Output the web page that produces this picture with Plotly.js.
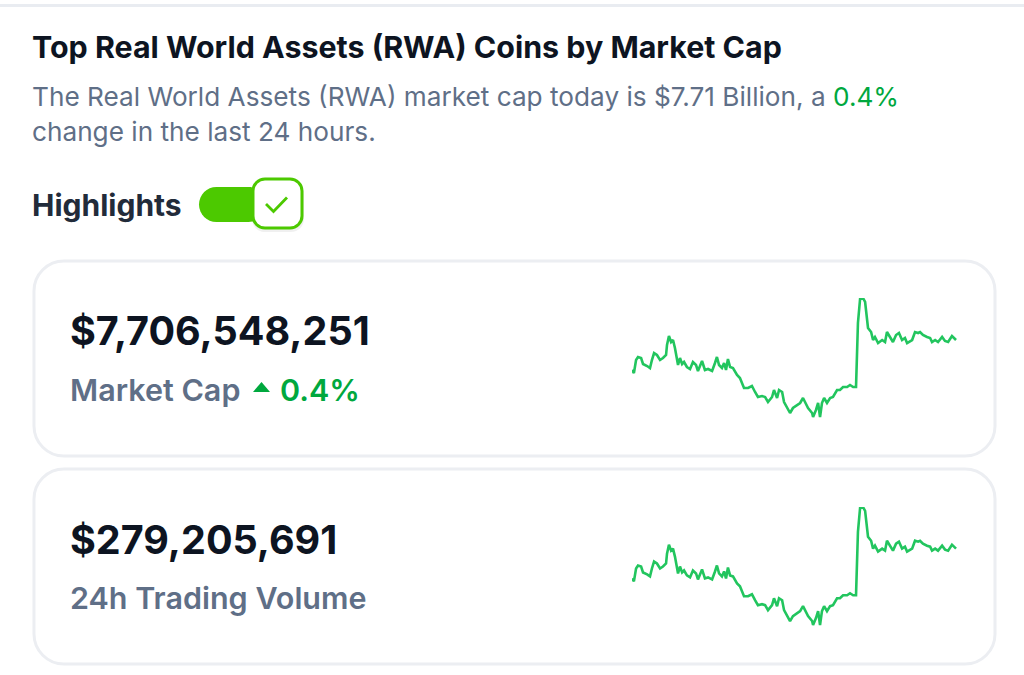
<!DOCTYPE html>
<html>
<head>
<meta charset="utf-8">
<script src="https://cdn.plot.ly/plotly-3.0.1.min.js"></script>
<style>html,body{margin:0;padding:0;background:#fff;}#chart{width:1024px;height:675px;}</style>
</head>
<body>
<div id="chart"></div>
<script>
// ---- data (7-day sparkline, hours vs market cap in billions USD) ----
const hours = [0,1.0,2.1,3.1,4.7,5.7,7.8,9.3,10.3,11.4,12.9,14.5,16.0,17.6,18.1,19.1,20.2,21.2,22.2,23.3,23.8,24.8,25.9,26.9,28.4,30.0,31.5,33.1,34.1,36.2,37.7,39.3,41.4,42.9,43.9,45.0,46.5,47.6,48.6,49.6,50.7,52.2,54.3,55.8,56.9,57.9,60.0,62.0,63.6,65.1,67.2,68.8,70.3,72.4,73.4,75.0,76.0,77.6,78.6,80.1,81.7,83.2,85.3,86.9,88.4,90.0,91.0,93.1,93.6,95.1,96.2,97.2,98.2,99.3,100.8,102.4,103.9,106.0,107.5,109.1,111.2,112.7,114.3,115.8,116.3,116.8,117.9,119.4,120.5,121.5,122.0,123.6,124.6,125.6,127.2,129.3,130.8,131.8,133.4,134.9,136.5,138.0,139.6,141.1,142.2,144.8,146.3,147.9,148.9,150.4,152.5,154.1,155.1,156.7,158.2,160.3,161.8,163.4,165.4,166.5,167.5];
const marketCapSpark = [7.590,7.578,7.630,7.642,7.638,7.614,7.606,7.598,7.630,7.658,7.650,7.630,7.638,7.650,7.690,7.726,7.702,7.710,7.678,7.626,7.610,7.638,7.614,7.622,7.602,7.594,7.622,7.610,7.586,7.626,7.590,7.594,7.586,7.618,7.642,7.610,7.598,7.618,7.590,7.634,7.602,7.598,7.570,7.558,7.538,7.518,7.518,7.526,7.502,7.482,7.486,7.482,7.462,7.482,7.510,7.478,7.510,7.502,7.462,7.438,7.418,7.438,7.450,7.458,7.478,7.450,7.438,7.418,7.402,7.430,7.458,7.402,7.458,7.478,7.458,7.478,7.482,7.510,7.510,7.522,7.522,7.530,7.522,7.522,7.642,7.778,7.874,7.878,7.862,7.778,7.758,7.742,7.710,7.722,7.698,7.710,7.702,7.742,7.718,7.702,7.730,7.738,7.710,7.718,7.698,7.710,7.742,7.738,7.742,7.730,7.722,7.718,7.702,7.710,7.702,7.722,7.706,7.702,7.726,7.718,7.710];
// the trading-volume card shows the same sparkline series
const volumeSpark = marketCapSpark;

const titleText = "Top Real World Assets (RWA) Coins by Market Cap";
const subLine1 = "The Real World Assets (RWA) market cap today is $7.71 Billion, a ";
const subChange = "0.4%";
const subLine2 = "change in the last 24 hours.";
const marketCapValue = "$7,706,548,251";
const marketCapLabel = "Market Cap";
const marketCapChange = "0.4%";
const volumeValue = "$279,205,691";
const volumeLabel = "24h Trading Volume";
const toggleLabel = "Highlights";

// ---- layout helpers (pixel -> paper) ----
const W = 1024, H = 675;
const X = x => (x / W).toFixed(5);
const Y = y => (1 - y / H).toFixed(5);
function rrect(x0, y0, x1, y1, r) {
  const k = 0.5523 * r;
  return `M${X(x0 + r)},${Y(y0)} L${X(x1 - r)},${Y(y0)} ` +
    `C${X(x1 - r + k)},${Y(y0)} ${X(x1)},${Y(y0 + r - k)} ${X(x1)},${Y(y0 + r)} ` +
    `L${X(x1)},${Y(y1 - r)} C${X(x1)},${Y(y1 - r + k)} ${X(x1 - r + k)},${Y(y1)} ${X(x1 - r)},${Y(y1)} ` +
    `L${X(x0 + r)},${Y(y1)} C${X(x0 + r - k)},${Y(y1)} ${X(x0)},${Y(y1 - r + k)} ${X(x0)},${Y(y1 - r)} ` +
    `L${X(x0)},${Y(y0 + r)} C${X(x0)},${Y(y0 + r - k)} ${X(x0 + r - k)},${Y(y0)} ${X(x0 + r)},${Y(y0)} Z`;
}
const FONT = "Inter, 'Noto Sans', sans-serif";
const GREEN_TXT = "#00a83e";
const SPARK = "#22c55e";
const TOGGLE = "#4cc900";

function ann(text, x, y, size, color, weight) {
  return { text, x: x / W, y: 1 - y / H, xref: "paper", yref: "paper", xanchor: "left", yanchor: "middle",
    showarrow: false, align: "left", font: { family: FONT, size, color, weight } };
}

const traces = [
  { type: "scatter", mode: "lines", x: hours, y: marketCapSpark, xaxis: "x", yaxis: "y",
    line: { color: SPARK, width: 2.6, shape: "linear" }, hoverinfo: "skip" },
  { type: "scatter", mode: "lines", x: hours, y: volumeSpark, xaxis: "x2", yaxis: "y2",
    line: { color: SPARK, width: 2.6, shape: "linear" }, hoverinfo: "skip" }
];

const hidden = { visible: false, showgrid: false, zeroline: false, fixedrange: true };
const layout = {
  width: W, height: H, margin: { l: 0, r: 0, t: 0, b: 0, pad: 0 },
  paper_bgcolor: "#ffffff", plot_bgcolor: "rgba(0,0,0,0)", showlegend: false, hovermode: false,
  xaxis: Object.assign({ domain: [632 / W, 957 / W], range: [0, 168], anchor: "y" }, hidden),
  yaxis: Object.assign({ domain: [1 - 418 / H, 1 - 298 / H], range: [7.398, 7.878], anchor: "x" }, hidden),
  xaxis2: Object.assign({ domain: [632 / W, 957 / W], range: [0, 168], anchor: "y2" }, hidden),
  yaxis2: Object.assign({ domain: [1 - 626 / H, 1 - 507 / H], range: [7.398, 7.878], anchor: "x2" }, hidden),
  shapes: [
    // top divider
    { type: "rect", xref: "paper", yref: "paper", x0: 0, x1: 1, y0: Y(7), y1: Y(4), fillcolor: "#e9ecf1", line: { width: 0 }, layer: "below" },
    // cards
    { type: "path", xref: "paper", yref: "paper", path: rrect(34, 261, 995, 456, 30), fillcolor: "#ffffff", line: { color: "#eceef2", width: 3 }, layer: "below" },
    { type: "path", xref: "paper", yref: "paper", path: rrect(34, 469, 995, 664, 30), fillcolor: "#ffffff", line: { color: "#eceef2", width: 3 }, layer: "below" },
    // toggle track
    { type: "path", xref: "paper", yref: "paper", path: rrect(199, 187, 266, 222, 17.5), fillcolor: TOGGLE, line: { width: 0 } },
    // knob shadow + knob
    { type: "path", xref: "paper", yref: "paper", path: rrect(252, 181, 304, 232, 13), fillcolor: "rgba(0,0,0,0.06)", line: { width: 0 } },
    { type: "path", xref: "paper", yref: "paper", path: rrect(253, 179, 302, 228, 12), fillcolor: "#ffffff", line: { color: TOGGLE, width: 3 } },
    // check mark
    { type: "path", xref: "paper", yref: "paper", path: `M${X(266)},${Y(204)} L${X(273.5)},${Y(211.5)} L${X(287)},${Y(197.5)}`, line: { color: TOGGLE, width: 2.8 } },
    // up triangle
    { type: "path", xref: "paper", yref: "paper", path: `M${X(253)},${Y(392)} L${X(261.5)},${Y(382)} L${X(270)},${Y(392)} Z`, fillcolor: GREEN_TXT, line: { width: 0 } }
  ],
  annotations: [
    ann(titleText, 30, 47, 30.4, "#0d1421", 700),
    ann(subLine1 + `<span style="color:${GREEN_TXT}">${subChange}</span>`, 30, 96, 26.2, "#5f6f87", 400),
    ann(subLine2, 30, 131, 26.2, "#5f6f87", 400),
    ann(toggleLabel, 30, 205, 30, "#222b3a", 700),
    ann(marketCapValue, 68, 331, 39.5, "#0d1421", 700),
    ann(marketCapLabel, 68, 389, 30.5, "#5f6f87", 600),
    ann(marketCapChange, 278, 389, 30.5, GREEN_TXT, 600),
    ann(volumeValue, 68, 540, 39.5, "#0d1421", 700),
    ann(volumeLabel, 68, 597, 30.5, "#5f6f87", 600)
  ]
};

Plotly.newPlot("chart", traces, layout, { staticPlot: true, displayModeBar: false });
</script>
</body>
</html>
